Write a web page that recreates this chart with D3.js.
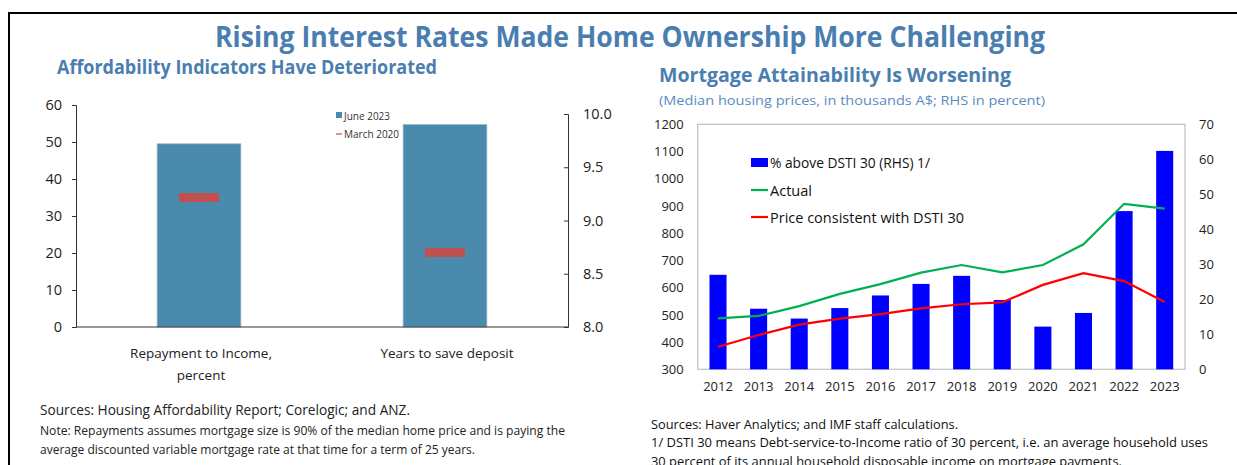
<!DOCTYPE html>
<html>
<head>
<meta charset="utf-8">
<script src="https://cdn.jsdelivr.net/npm/d3@7"></script>
<style>
  body { margin: 0; background: #fff; }
  text { font-family: "Open Sans", "Noto Sans", sans-serif; }
</style>
</head>
<body>
<script>
// ---------------- data ----------------
// left panel: affordability indicators
var affordCats = ["Repayment to Income,\npercent", "Years to save deposit"];
var june2023 = [49.5, 9.9];    // first on LHS, second on RHS
var march2020 = [35, 8.7];
var leftTicks = [0, 10, 20, 30, 40, 50, 60];
var rightTicks = [8.0, 8.5, 9.0, 9.5, 10.0];

// right panel: mortgage attainability
var years = ["2012", "2013", "2014", "2015", "2016", "2017", "2018", "2019", "2020", "2021", "2022", "2023"];
var pctAboveDSTI = [27, 17.3, 14.5, 17.5, 21.1, 24.4, 26.7, 19.8, 12.2, 16.1, 45.2, 62.4];
var actualPrice = [487, 496, 532, 577, 613, 655, 683, 656, 683, 759, 908, 890];
var consistentPrice = [383, 426, 464, 486, 503, 524, 539, 546, 610, 653, 624, 547];
var priceTicks = [300, 400, 500, 600, 700, 800, 900, 1000, 1100, 1200];
var pctTicks = [0, 10, 20, 30, 40, 50, 60, 70];

var titleBlue = "#4a7eb0";

var svg = d3.select("body").append("svg")
  .attr("width", 1237)
  .attr("height", 465);

// frame
svg.append("path")
  .attr("d", "M9,465V13H1237")
  .attr("fill", "none")
  .attr("stroke", "#000")
  .attr("stroke-width", 2);

// titles
svg.append("text")
  .attr("x", 215).attr("y", 36)
  .attr("dominant-baseline", "central")
  .attr("font-size", 28).attr("font-weight", "bold")
  .attr("fill", titleBlue)
  .attr("textLength", 830).attr("lengthAdjust", "spacingAndGlyphs")
  .text("Rising Interest Rates Made Home Ownership More Challenging");

svg.append("text")
  .attr("x", 57).attr("y", 66)
  .attr("dominant-baseline", "central")
  .attr("font-size", 20).attr("font-weight", "bold")
  .attr("fill", titleBlue)
  .attr("textLength", 380).attr("lengthAdjust", "spacingAndGlyphs")
  .text("Affordability Indicators Have Deteriorated");

svg.append("text")
  .attr("x", 659).attr("y", 75)
  .attr("dominant-baseline", "central")
  .attr("font-size", 19).attr("font-weight", "bold")
  .attr("fill", titleBlue)
  .attr("textLength", 352).attr("lengthAdjust", "spacingAndGlyphs")
  .text("Mortgage Attainability Is Worsening");

svg.append("text")
  .attr("x", 659).attr("y", 100)
  .attr("dominant-baseline", "central")
  .attr("font-size", 13.5)
  .attr("fill", "#5a8cc0")
  .attr("textLength", 386).attr("lengthAdjust", "spacingAndGlyphs")
  .text("(Median housing prices, in thousands A$; RHS in percent)");

// ---------------- left chart ----------------
var xL = d3.scaleBand().domain(affordCats).range([76, 568]);
var yLeft = d3.scaleLinear().domain([0, 60]).range([327, 105]);
var yRight = d3.scaleLinear().domain([8, 10]).range([327, 114]);
var barW = xL.bandwidth() * 0.34;
var yFor = function (i) { return i === 0 ? yLeft : yRight; };

var gL = svg.append("g");

gL.selectAll("rect.bar")
  .data(june2023)
  .enter().append("rect")
  .attr("class", "bar")
  .attr("x", function (d, i) { return xL(affordCats[i]) + xL.bandwidth() / 2 - barW / 2; })
  .attr("y", function (d, i) { return yFor(i)(d); })
  .attr("width", barW)
  .attr("height", function (d, i) { return yFor(i).range()[0] - yFor(i)(d); })
  .attr("fill", "#4a8aad")
  .attr("stroke", "#8fb0c4")
  .attr("stroke-width", 0.8);

gL.selectAll("rect.mark")
  .data(march2020)
  .enter().append("rect")
  .attr("class", "mark")
  .attr("x", function (d, i) { return xL(affordCats[i]) + xL.bandwidth() / 2 - 20; })
  .attr("y", function (d, i) { return yFor(i)(d) - 4.5; })
  .attr("width", 40)
  .attr("height", 9)
  .attr("fill", "#c0504d");

var axL = gL.append("g")
  .attr("transform", "translate(76,0)")
  .call(d3.axisLeft(yLeft).tickValues(leftTicks).tickSize(4).tickSizeOuter(4).tickPadding(10));
axL.selectAll("text").attr("font-size", 14.5).attr("fill", "#222").attr("font-family", "Open Sans");

var axR = gL.append("g")
  .attr("transform", "translate(568,0)")
  .call(d3.axisRight(yRight).tickValues(rightTicks).tickFormat(d3.format(".1f")).tickSize(-4).tickSizeOuter(-4).tickPadding(15));
axR.selectAll("text").attr("font-size", 14.5).attr("fill", "#222").attr("font-family", "Open Sans");

[axL, axR].forEach(function (a) {
  a.selectAll("path, line").attr("stroke", "#333");
});

gL.append("line")
  .attr("x1", 76).attr("x2", 568)
  .attr("y1", 327).attr("y2", 327)
  .attr("stroke", "#333");

// category labels
affordCats.forEach(function (c) {
  var lines = c.split("\n");
  var t = gL.append("text")
    .attr("text-anchor", "middle")
    .attr("font-size", 13.5)
    .attr("fill", "#222");
  lines.forEach(function (l, j) {
    t.append("tspan")
      .attr("x", xL(c) + xL.bandwidth() / 2 + 2)
      .attr("y", 358 + j * 22)
      .text(l);
  });
});

// legend
gL.append("rect").attr("x", 336).attr("y", 112).attr("width", 6).attr("height", 6).attr("fill", "#4a8aad");
gL.append("text").attr("x", 344).attr("y", 115.5).attr("dominant-baseline", "central")
  .attr("font-size", 10).attr("fill", "#333").text("June 2023");
gL.append("line").attr("x1", 336).attr("x2", 342).attr("y1", 134).attr("y2", 134)
  .attr("stroke", "#c0504d").attr("stroke-width", 1.2);
gL.append("text").attr("x", 344).attr("y", 134).attr("dominant-baseline", "central")
  .attr("font-size", 10).attr("fill", "#333").text("March 2020");

// notes
var leftNotes = [
  { t: "Sources: Housing Affordability Report; Corelogic; and ANZ.", y: 409, s: 14, w: 370 },
  { t: "Note: Repayments assumes mortgage size is 90% of the median home price and is paying the", y: 430, s: 12, w: 525 },
  { t: "average discounted variable mortgage rate at that time for a term of 25 years.", y: 449, s: 12, w: 435 }
];
leftNotes.forEach(function (n) {
  svg.append("text").attr("x", 40).attr("y", n.y)
    .attr("dominant-baseline", "central")
    .attr("font-size", n.s).attr("fill", "#222")
    .attr("textLength", n.w).attr("lengthAdjust", "spacingAndGlyphs")
    .text(n.t);
});

// ---------------- right chart ----------------
var plotL = 697.7, plotR = 1185, plotT = 124.3, plotB = 369.3;
var xR = d3.scaleBand().domain(years).range([plotL, plotR]);
var yPrice = d3.scaleLinear().domain([300, 1200]).range([plotB, plotT]);
var yPct = d3.scaleLinear().domain([0, 70]).range([plotB, plotT]);
var bw = xR.bandwidth() * 0.42;
var cx = function (d) { return xR(d) + xR.bandwidth() / 2; };

var gR = svg.append("g");

gR.append("rect")
  .attr("x", plotL).attr("y", plotT)
  .attr("width", plotR - plotL).attr("height", plotB - plotT)
  .attr("fill", "none").attr("stroke", "#bfbfbf").attr("stroke-width", 1.2);

gR.selectAll("rect.bar")
  .data(pctAboveDSTI)
  .enter().append("rect")
  .attr("class", "bar")
  .attr("x", function (d, i) { return cx(years[i]) - bw / 2; })
  .attr("y", function (d) { return yPct(d); })
  .attr("width", bw)
  .attr("height", function (d) { return plotB - yPct(d); })
  .attr("fill", "#0000ff");

var line = d3.line()
  .x(function (d, i) { return cx(years[i]); })
  .y(function (d) { return yPrice(d); });

gR.append("path").datum(actualPrice)
  .attr("d", line).attr("fill", "none")
  .attr("stroke", "#00b050").attr("stroke-width", 2.2);
gR.append("path").datum(consistentPrice)
  .attr("d", line).attr("fill", "none")
  .attr("stroke", "#ff0000").attr("stroke-width", 2.2);

var axP = gR.append("g").attr("transform", "translate(" + plotL + ",0)")
  .call(d3.axisLeft(yPrice).tickValues(priceTicks).tickFormat(d3.format("d")).tickSize(0).tickPadding(14));
var axPct = gR.append("g").attr("transform", "translate(" + plotR + ",0)")
  .call(d3.axisRight(yPct).tickValues(pctTicks).tickSize(0).tickPadding(14));
var axX = gR.append("g").attr("transform", "translate(0," + plotB + ")")
  .call(d3.axisBottom(xR).tickSize(0).tickPadding(12));
[axP, axPct, axX].forEach(function (a) {
  a.select(".domain").remove();
  a.selectAll("text").attr("font-size", 13).attr("fill", "#222").attr("font-family", "Open Sans");
});

// legend
var legendY = [162.5, 190, 217];
gR.append("rect").attr("x", 751).attr("y", 158).attr("width", 17).attr("height", 9).attr("fill", "#0000ff");
gR.append("line").attr("x1", 751).attr("x2", 768).attr("y1", legendY[1]).attr("y2", legendY[1])
  .attr("stroke", "#00b050").attr("stroke-width", 2.2);
gR.append("line").attr("x1", 751).attr("x2", 768).attr("y1", legendY[2]).attr("y2", legendY[2])
  .attr("stroke", "#ff0000").attr("stroke-width", 2.2);
var legendText = [
  { t: "% above DSTI 30 (RHS) 1/", w: 160 },
  { t: "Actual", w: 42 },
  { t: "Price consistent with DSTI 30", w: 194 }
];
legendText.forEach(function (l, i) {
  gR.append("text").attr("x", 770).attr("y", legendY[i])
    .attr("dominant-baseline", "central")
    .attr("font-size", 14).attr("fill", "#111")
    .attr("textLength", l.w).attr("lengthAdjust", "spacingAndGlyphs")
    .text(l.t);
});

var rightNotes = [
  { t: "Sources: Haver Analytics; and IMF staff calculations.", y: 424, w: 307 },
  { t: "1/ DSTI 30 means Debt-service-to-Income ratio of 30 percent, i.e. an average household uses", y: 442, w: 557 },
  { t: "30 percent of its annual household disposable income on mortgage payments.", y: 461, w: 471 }
];
rightNotes.forEach(function (n) {
  svg.append("text").attr("x", 651).attr("y", n.y)
    .attr("dominant-baseline", "central")
    .attr("font-size", 12.5).attr("fill", "#111")
    .attr("textLength", n.w).attr("lengthAdjust", "spacingAndGlyphs")
    .text(n.t);
});
</script>
</body>
</html>
